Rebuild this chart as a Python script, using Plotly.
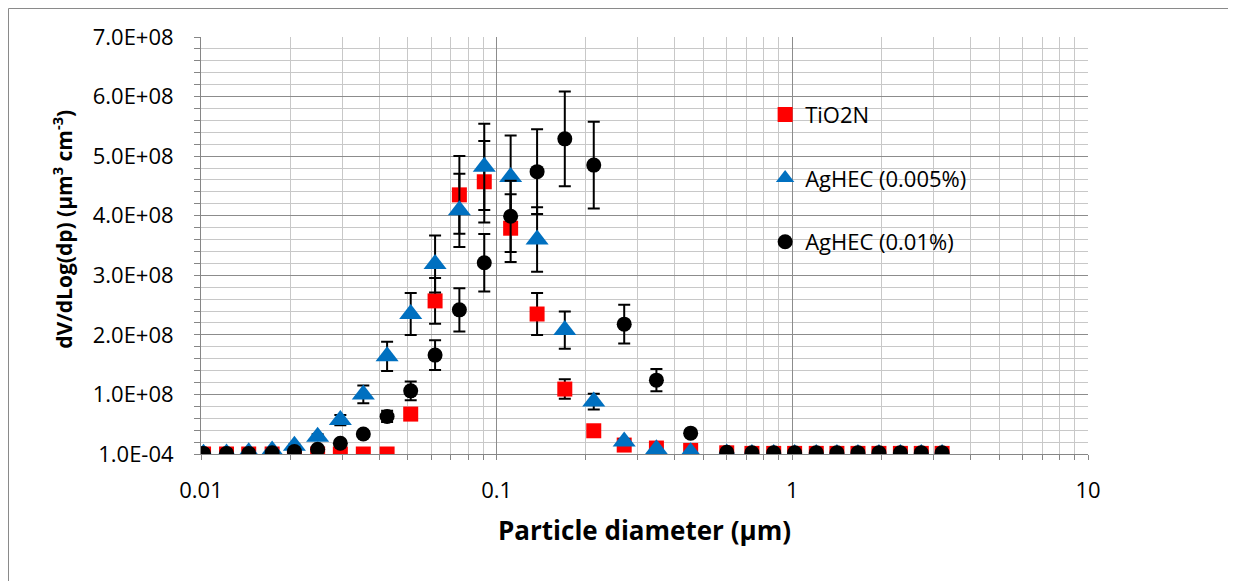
import plotly.graph_objects as go

# Particle diameters (µm)
diameter = [0.0102, 0.0122, 0.0145, 0.0174, 0.0207, 0.0248, 0.0296, 0.0354, 0.0426, 0.0512,
            0.0619, 0.0748, 0.0908, 0.1115, 0.137, 0.170, 0.213, 0.270, 0.347, 0.453,
            0.600, 0.730, 0.865, 1.018, 1.205, 1.415, 1.667, 1.963, 2.32, 2.73, 3.21]

tio2n = [1e-4, 1e-4, 1e-4, 1e-4, 1e-4, 1e-4, 1e-4, 1e-4, 1e-4, 6.7e7,
         2.57e8, 4.35e8, 4.57e8, 3.79e8, 2.35e8, 1.09e8, 3.9e7, 1.5e7, 1.0e7, 6e6,
         2e6, 1e6, 1e6, 1e6, 1e6, 1e6, 1e6, 1e6, 1e6, 1e6, 1e6]

aghec_0005 = [5e5, 1e6, 3e6, 6e6, 1.4e7, 2.9e7, 5.7e7, 1.0e8, 1.64e8, 2.35e8,
              3.19e8, 4.09e8, 4.82e8, 4.65e8, 3.60e8, 2.08e8, 8.8e7, 2.1e7, 8e6, 3e6,
              1e6, 1e-4, 1e-4, 1e-4, 1e-4, 1e-4, 1e-4, 1e-4, 1e-4, 1e-4, 1e-4]

aghec_001 = [1e6, 1e6, 1e6, 2e6, 4e6, 8e6, 1.8e7, 3.35e7, 6.3e7, 1.06e8,
             1.66e8, 2.42e8, 3.21e8, 3.99e8, 4.74e8, 5.29e8, 4.85e8, 2.18e8, 1.24e8, 3.5e7,
             3e6, 2e6, 2e6, 2e6, 2e6, 2e6, 2e6, 2e6, 2e6, 2e6, 2e6]

error_percent = 15

y_tickvals = [0, 1e8, 2e8, 3e8, 4e8, 5e8, 6e8, 7e8]
y_ticktext = ["1.0E-04", "1.0E+08", "2.0E+08", "3.0E+08", "4.0E+08", "5.0E+08", "6.0E+08", "7.0E+08"]
x_tickvals = [0.01, 0.1, 1, 10]
x_ticktext = ["0.01", "0.1", "1", "10"]

FONT = "Open Sans"
err = dict(type="percent", value=error_percent, color="black", thickness=2, width=6)

fig = go.Figure()
fig.add_trace(go.Scatter(x=diameter, y=tio2n, mode="markers", name="TiO2N",
                         legendgroup="a",
                         marker=dict(symbol="square", size=15, color="#FF0000"),
                         error_y=err))
fig.add_trace(go.Scatter(x=diameter, y=aghec_0005, mode="markers", name="AgHEC (0.005%)",
                         legendgroup="b",
                         marker=dict(symbol="triangle-up", size=20, color="#0070C0"),
                         error_y=err))
fig.add_trace(go.Scatter(x=diameter, y=aghec_001, mode="markers", name="AgHEC (0.01%)",
                         legendgroup="c",
                         marker=dict(symbol="circle", size=15, color="#000000"),
                         error_y=err))

W, H = 1236, 581
L, R, T, B = 193, 156, 29, 135
pw, ph = W - L - R, H - T - B

fig.update_layout(
    width=W, height=H,
    margin=dict(l=L, r=R, t=T, b=B),
    paper_bgcolor="white", plot_bgcolor="white",
    font=dict(family=FONT, size=22, color="black"),
    showlegend=True,
    legend=dict(x=0.636, y=0.864, xanchor="left", yanchor="top",
                bgcolor="rgba(0,0,0,0)", font=dict(size=22, family=FONT),
                tracegroupgap=32, itemsizing="trace"),
    xaxis=dict(
        type="log", range=[-2, 1],
        tickmode="array", tickvals=x_tickvals, ticktext=x_ticktext,
        ticks="outside", ticklen=5, tickcolor="#868686",
        showline=True, linecolor="#868686", linewidth=1,
        showgrid=True, gridcolor="#8c8c8c", gridwidth=1,
        minor=dict(dtick="D1", showgrid=True, gridcolor="#c8c8c8", gridwidth=1.3,
                   ticks="outside", ticklen=5, tickcolor="#868686"),
        ticklabelposition="outside",
        ticklabelstandoff=12,
        tickfont=dict(size=22, family=FONT),
        zeroline=False,
    ),
    yaxis=dict(
        range=[0, 7e8],
        tickmode="array", tickvals=y_tickvals, ticktext=y_ticktext,
        ticks="outside", ticklen=6, tickcolor="#868686",
        showline=True, linecolor="#868686", linewidth=1,
        showgrid=True, gridcolor="#8c8c8c", gridwidth=1,
        minor=dict(dtick=2e7, showgrid=True, gridcolor="#c8c8c8", gridwidth=1.3,
                   ticks="outside", ticklen=6, tickcolor="#868686"),
        ticklabelstandoff=16,
        tickfont=dict(size=22, family=FONT),
        zeroline=False,
    ),
    annotations=[
        dict(text="<b>dV/dLog(dp) (µm<sup>3</sup> cm<sup>-3</sup>)</b>",
             xref="paper", yref="paper", x=-0.1556, y=0.54,
             xanchor="center", yanchor="middle", textangle=-90, showarrow=False,
             font=dict(size=21, family=FONT, color="black")),
        dict(text="<b>Particle diameter (µm)</b>",
             xref="paper", yref="paper", x=0.5, y=-0.182,
             xanchor="center", yanchor="middle", showarrow=False,
             font=dict(size=26, family=FONT, color="black")),
    ],
    shapes=[dict(type="rect", xref="paper", yref="paper",
                 x0=(0.5 - L) / pw, x1=(W + 20 - L) / pw,
                 y0=-(B + 20) / ph, y1=(ph + T - 0.5) / ph,
                 line=dict(color="#8a8a8a", width=1), fillcolor="rgba(0,0,0,0)", layer="below")],
)

fig.write_html("out.html")
